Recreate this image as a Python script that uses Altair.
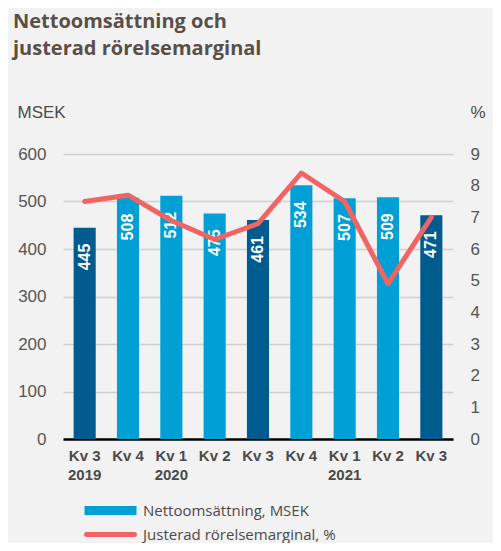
import altair as alt
import pandas as pd

quarters = ["2019 Q3", "2019 Q4", "2020 Q1", "2020 Q2", "2020 Q3",
            "2020 Q4", "2021 Q1", "2021 Q2", "2021 Q3"]
tick_labels = [["Kv 3", "2019"], ["Kv 4"], ["Kv 1", "2020"], ["Kv 2"], ["Kv 3"],
               ["Kv 4"], ["Kv 1", "2021"], ["Kv 2"], ["Kv 3"]]
sales = [445, 508, 512, 475, 461, 534, 507, 509, 471]
margin = [7.5, 7.7, 6.9, 6.3, 6.8, 8.4, 7.5, 4.9, 7.0]
third_quarter = [True, False, False, False, True, False, False, False, True]

NET = "Nettoomsättning, MSEK"
MARG = "Justerad rörelsemarginal, %"
Q3 = "Kv 3"

LIGHT = "#00a0d6"
DARK = "#005b8f"
RED = "#f06464"
BG = "#f2f2f2"

df = pd.DataFrame({
    "q": quarters,
    "sales": sales,
    "margin": margin,
    "kind": [Q3 if d else NET for d in third_quarter],
    "series": [MARG] * len(quarters),
})

keys_js = "[" + ",".join(f"'{k}'" for k in quarters) + "]"
labels_js = "[" + ",".join("[" + ",".join(f"'{s}'" for s in lab) + "]" for lab in tick_labels) + "]"
label_expr = f"{labels_js}[indexof({keys_js}, datum.value)]"

x = alt.X("q:N", sort=quarters, title=None,
          scale=alt.Scale(paddingInner=0.49, paddingOuter=0.245),
          axis=alt.Axis(labelExpr=label_expr, labelAngle=0, domainColor="#000000",
                        domainWidth=2.5, ticks=False, labelFont="Liberation Sans",
                        labelFontWeight="bold", labelFontSize=15, labelColor="#4a4a4a",
                        labelPadding=9, labelLineHeight=19))

legend_common = dict(title=None, orient="none", direction="vertical", padding=0,
                     symbolSize=100, symbolOffset=26, labelOffset=25,
                     labelFont="Open Sans", labelFontSize=15, labelColor="#4a4a4a",
                     labelLimit=400)

fill_legend = alt.Legend(legendX=14, legendY=349, values=[NET],
                         symbolType="M-5.2,-0.9H5.2V0.9H-5.2Z",
                         symbolFillColor=LIGHT, symbolStrokeWidth=0, **legend_common)
stroke_legend = alt.Legend(legendX=14, legendY=373,
                           symbolType="M-4.8,-0.5H4.8A0.5,0.5 0 0 1 4.8,0.5H-4.8A0.5,0.5 0 0 1 -4.8,-0.5Z",
                           symbolFillColor=RED, symbolStrokeWidth=0, **legend_common)

y_left = alt.Y("sales:Q", scale=alt.Scale(domain=[0, 600]),
               axis=alt.Axis(values=[0, 100, 200, 300, 400, 500, 600], title="MSEK",
                             titleAngle=0, titleX=-46, titleY=-42, titleAlign="left",
                             titleBaseline="middle", titleFont="Liberation Sans",
                             titleFontSize=17, titleFontWeight="normal", titleColor="#4a4a4a",
                             labelFont="Liberation Sans", labelFontSize=17, labelColor="#555555",
                             labelPadding=17, domain=False, ticks=False,
                             gridColor="#d0d0d0", gridWidth=1.5))

bars = alt.Chart(df).mark_bar().encode(
    x=x, y=y_left,
    fill=alt.Fill("kind:N", scale=alt.Scale(domain=[NET, Q3], range=[LIGHT, DARK]),
                  legend=fill_legend),
)

texts = alt.Chart(df).mark_text(
    angle=270, align="right", baseline="middle", yOffset=16,
    font="Liberation Sans", fontWeight="bold", fontSize=16, color="white",
).encode(x=x, y=alt.Y("sales:Q"), text=alt.Text("sales:Q"))

line = alt.Chart(df).mark_line(strokeWidth=5, strokeCap="round", strokeJoin="round").encode(
    x=x,
    y=alt.Y("margin:Q", scale=alt.Scale(domain=[0, 9]),
            axis=alt.Axis(orient="right", values=list(range(10)), title="%",
                          titleAngle=0, titleX=17, titleY=-42, titleAlign="left",
                          titleBaseline="middle", titleFont="Liberation Sans",
                          titleFontSize=17, titleFontWeight="normal", titleColor="#4a4a4a",
                          labelFont="Liberation Sans", labelFontSize=17, labelColor="#555555",
                          labelPadding=17, domain=False, ticks=False, grid=False)),
    stroke=alt.Stroke("series:N", scale=alt.Scale(domain=[MARG], range=[RED]),
                      legend=stroke_legend),
)

chart = alt.layer(alt.layer(bars, texts), line).resolve_scale(y="independent").properties(
    width=390, height=285,
    autosize=alt.AutoSizeParams(type="none"),
    padding={"left": 55, "top": 146, "right": 40, "bottom": 104},
    background=BG,
    title=alt.TitleParams(
        text=["Nettoomsättning och", "justerad rörelsemarginal"],
        anchor="start", frame="group", dx=-50, offset=24, baseline="bottom",
        font="Open Sans", fontSize=20, fontWeight="bold", color="#5a4f48", lineHeight=27,
    ),
).configure_view(stroke=None)

chart.save("out.html", embed_options={"renderer": "svg", "actions": False})
